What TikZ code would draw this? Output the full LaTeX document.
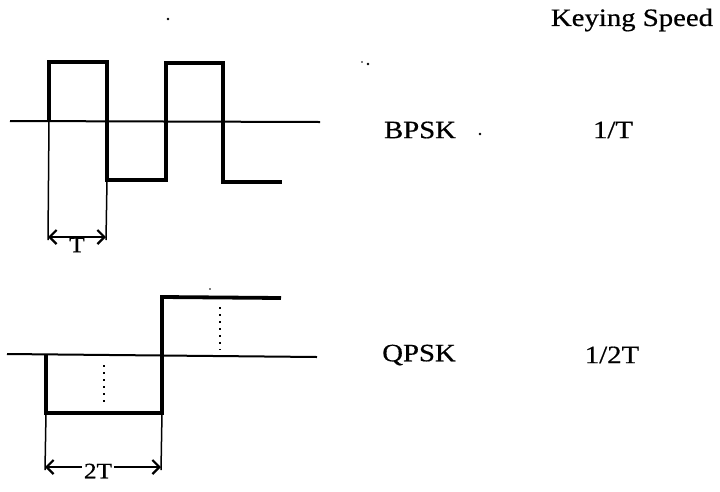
\documentclass[tikz,border=0pt]{standalone}
\usepackage{fontspec}
\setmainfont{Liberation Serif}[FakeStretch=1.15,FakeBold=0.6]
\usetikzlibrary{arrows.meta}
\begin{document}
\begin{tikzpicture}[x=1pt,y=-1pt,
  axis/.style={line width=2pt},
  wave/.style={line width=3.8pt, line join=miter},
  guide/.style={line width=1.5pt},
  barb/.tip={Straight Barb[length=7pt,width=14pt,line width=2.2pt]},
  dim/.style={line width=1.8pt},
  dots/.style={line width=2pt, dash pattern=on 2pt off 5pt},
  lbl/.style={font=\fontsize{25}{30}\selectfont, inner sep=0pt},
  speck/.style={fill, circle, inner sep=0pt, minimum size=2.6pt}]
\useasboundingbox (0,0) rectangle (720,491);
% ---------- BPSK ----------
\coordinate (a0) at (10,121);
\coordinate (a1) at (320,122);
\draw[axis] (a0) -- (a1);
\coordinate (b0) at (49,121);
\coordinate (b1) at (49,62);
\coordinate (b2) at (107,62);
\coordinate (b3) at (107,180);
\coordinate (b4) at (166,180);
\coordinate (b5) at (166,63);
\coordinate (b6) at (223,63);
\coordinate (b7) at (223,182);
\coordinate (b8) at (282,182);
\draw[wave] (b0) -- (b1) -- (b2) -- (b3) -- (b4) -- (b5) -- (b6) -- (b7) -- (b8);
\coordinate (g1) at (48,240);
\coordinate (g2) at (106,240);
\draw[guide] (b0) -- (g1);
\draw[guide] (b3) -- (g2);
\coordinate (t1) at (48,237);
\coordinate (t2) at (106,237);
\draw[dim, barb-barb] (t1) -- (t2);
\node[lbl, font=\fontsize{22}{26}\selectfont] (tl) at (77,245) {T};
% ---------- QPSK ----------
\coordinate (c0) at (7,354);
\coordinate (c1) at (317,357);
\draw[axis] (c0) -- (c1);
\coordinate (q0) at (46,354);
\coordinate (q1) at (46,413);
\coordinate (q2) at (162,413);
\coordinate (q3) at (162,297);
\coordinate (q4) at (281,298);
\draw[wave] (q0) -- (q1) -- (q2) -- (q3) -- (q4);
\coordinate (d1) at (104,365);
\coordinate (d2) at (104,406);
\coordinate (d3) at (220,307);
\coordinate (d4) at (220,350);
\draw[dots] (d1) -- (d2);
\draw[dots] (d3) -- (d4);
\coordinate (h1) at (45,470);
\coordinate (h2) at (161,470);
\draw[guide] (q1) -- (h1);
\draw[guide] (q2) -- (h2);
\node[lbl, font=\fontsize{22}{26}\selectfont] (tt) at (98,471) {2T};
\coordinate (s1) at (45,467);
\coordinate (s2) at (161,467);
\draw[dim, barb-] (s1) -- ([xshift=-2pt]tt.west |- s1);
\draw[dim, -barb] ([xshift=2pt]tt.east |- s2) -- (s2);
% ---------- labels ----------
\node[lbl] (ks) at (632,20) {Keying Speed};
\node[lbl] (bp) at (420,130) {BPSK};
\node[lbl] (r1) at (613,130) {1/T};
\node[lbl] (qp) at (419,355) {QPSK};
\node[lbl] (r2) at (612,355) {1/2T};
% ---------- specks ----------
\node[speck] (p1) at (168,19) {};
\node[speck, minimum size=1.8pt] (p2) at (362,62) {};
\node[speck] (p3) at (368,64) {};
\node[speck] (p4) at (480,134) {};
\node[speck, minimum size=1.8pt] (p5) at (210,289) {};
\end{tikzpicture}
\end{document}
